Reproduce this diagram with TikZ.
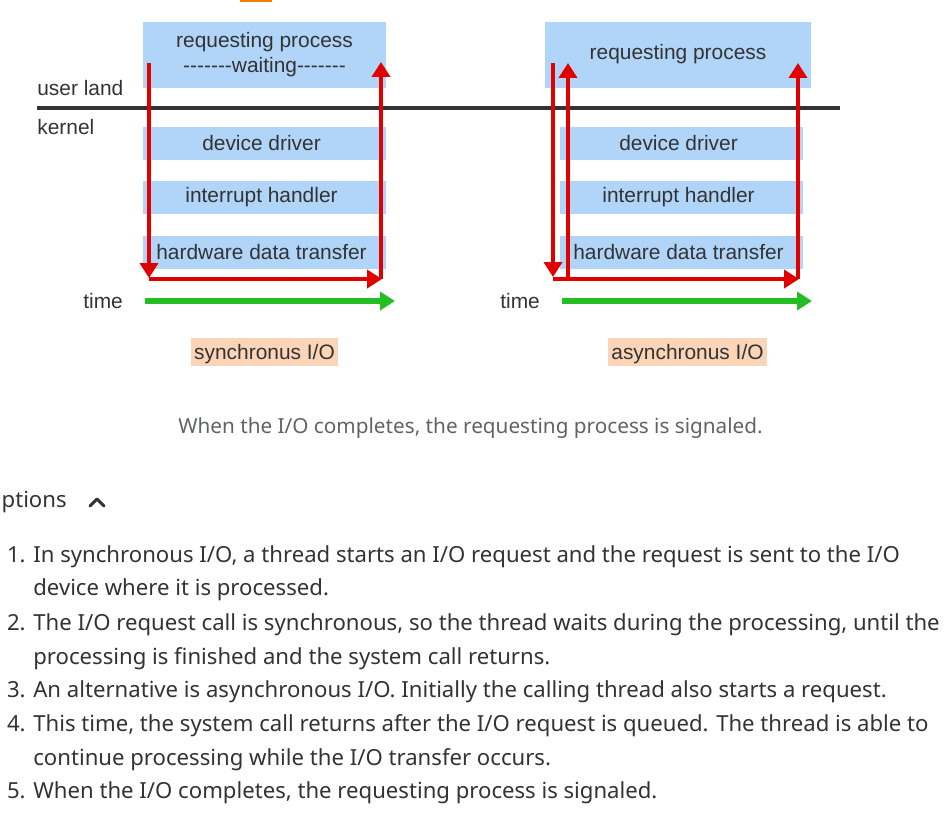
\documentclass[tikz,border=0pt]{standalone}
\usepackage{fontspec}
\setmainfont{Liberation Sans}
\newfontfamily\listfont{Noto Sans}
\usetikzlibrary{arrows.meta,positioning}
\definecolor{boxblue}{HTML}{B0D5F9}
\definecolor{arrred}{HTML}{E00000}
\definecolor{arrgreen}{HTML}{24BE24}
\definecolor{tagpeach}{HTML}{FCD5B8}
\definecolor{inkgray}{HTML}{333333}
\definecolor{capgray}{HTML}{5F6368}
\definecolor{markorange}{HTML}{F57C00}
\newcommand\dashes{-\kern0pt-\kern0pt-\kern0pt-\kern0pt-\kern0pt-\kern0pt-}

\begin{document}
\begin{tikzpicture}[x=0.02cm,y=-0.02cm,
  every node/.style={text=inkgray,font=\fontsize{11.9}{14.2}\selectfont},
  procbox/.style={fill=boxblue,minimum height=1.32cm,inner sep=0pt,align=center},
  layerbox/.style={fill=boxblue,minimum width=4.86cm,minimum height=0.66cm,inner sep=0pt},
  tagbox/.style={fill=tagpeach,minimum height=0.56cm,inner xsep=1.7pt,inner ysep=0pt,text depth=0.5pt},
  flow/.style={arrred,line width=2.3pt,-{Triangle[width=10.2pt,length=8.5pt]}},
  clock/.style={arrgreen,line width=3pt,-{Triangle[width=10.2pt,length=8.5pt]}},
  item/.style={anchor=base west,inner sep=0pt,font=\listfont\fontsize{12.6}{15}\selectfont},
  num/.style={anchor=base east,inner sep=0pt,font=\listfont\fontsize{12.6}{15}\selectfont}]
\useasboundingbox (0,0) rectangle (952,823);
\fill[markorange] (240,0) rectangle (272,2);

% user land / kernel split
\node[anchor=west,inner sep=0pt] (user) at (37,88) {user land};
\node[anchor=west,inner sep=0pt] (kern) at (37,127) {kernel};
\draw[inkgray,line width=2.3pt] (37,108) -- (840,108);

% synchronous side
\node[procbox,minimum width=4.86cm] (req1) at (264.5,55) {requesting process\\\dashes waiting\dashes};
\node[layerbox] (drv1) at (264.5,143.5) {device driver\kern3.4pt};
\node[layerbox] (irq1) at (264.5,197.5) {interrupt handler\kern3.4pt};
\node[layerbox] (hw1) at (264.5,252) {hardware data transfer\kern3.4pt};
\coordinate (s1) at (149,63);
\coordinate (d1) at (149,278);
\coordinate (b1) at (149,279);
\coordinate (e1) at (382,279);
\coordinate (f1) at (381,279);
\coordinate (t1) at (381,62);
\draw[flow] (s1) -- (d1);
\draw[flow] (b1) -- (e1);
\draw[flow] (f1) -- (t1);
\node[anchor=west,inner sep=0pt] (time1) at (83,301) {time};
\coordinate (g1) at (145,301);
\coordinate (h1) at (395,301);
\draw[clock] (g1) -- (h1);
\node[tagbox] (tag1) at (264.5,352) {synchronus I/O};

% asynchronous side
\node[procbox,minimum width=5.32cm,text depth=4pt] (req2) at (678,55) {requesting process};
\node[layerbox] (drv2) at (681.5,143.5) {device driver\kern3.4pt};
\node[layerbox] (irq2) at (681.5,197.5) {interrupt handler\kern3.4pt};
\node[layerbox] (hw2) at (681.5,252) {hardware data transfer\kern3.4pt};
\coordinate (s2) at (553,63);
\coordinate (d2) at (553,277);
\coordinate (b2) at (553,279);
\coordinate (e2) at (799,279);
\coordinate (q2) at (568,279);
\coordinate (r2) at (568,63);
\coordinate (f2) at (798,279);
\coordinate (t2) at (798,63);
\draw[flow] (s2) -- (d2);
\draw[flow] (b2) -- (e2);
\draw[flow] (q2) -- (r2);
\draw[flow] (f2) -- (t2);
\node[anchor=west,inner sep=0pt] (time2) at (500,301) {time};
\coordinate (g2) at (562,301);
\coordinate (h2) at (812,301);
\draw[clock] (g2) -- (h2);
\node[tagbox] (tag2) at (687.5,352) {asynchronus I/O};

% caption
\node[text=capgray,font=\listfont\fontsize{11.8}{14}\selectfont] (cap) at (470.5,428) {When the I/O completes, the requesting process is signaled.};

% descriptions
\node[anchor=east,inner sep=0pt,font=\listfont\fontsize{12.6}{15}\selectfont] (desc) at (67,502) {ptions};
\draw[inkgray,line width=1.7pt,line cap=round,line join=round] (90,506) -- (97,499) -- (104,506);

\node[num] (k1) at (26,562) {1.};
\node[item] (l1a) at (33,562) {In synchronous I/O, a thread starts an I/O request and the request is sent to the I/O};
\node[item] (l1b) at (33,595) {device where it is processed.};
\node[num] (k2) at (26,630) {2.};
\node[item] (l2a) at (33,630) {The I/O request call is synchronous, so the thread waits during the processing, until the};
\node[item] (l2b) at (33,664) {processing is finished and the system call returns.};
\node[num] (k3) at (26,697) {3.};
\node[item] (l3) at (33,697) {An alternative is asynchronous I/O. Initially the calling thread also starts a request.};
\node[num] (k4) at (26,731) {4.};
\node[item] (l4a) at (33,731) {This time, the system call returns after the I/O request is queued. The thread is able to};
\node[item] (l4b) at (33,765) {continue processing while the I/O transfer occurs.};
\node[num] (k5) at (26,798) {5.};
\node[item] (l5) at (33,798) {When the I/O completes, the requesting process is signaled.};
\end{tikzpicture}
\end{document}
